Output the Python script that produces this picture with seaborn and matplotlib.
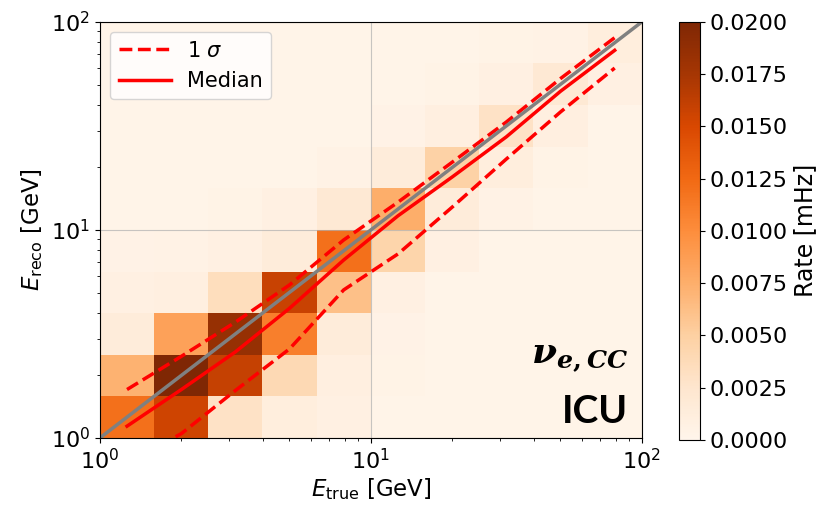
import numpy as np
import pandas as pd
import seaborn as sns
import matplotlib.pyplot as plt

# bin centres of E_true / E_reco (log-spaced, 10 bins per axis from 1 to 100 GeV)
e_centers = [1.26, 2.0, 3.16, 5.01, 7.94, 12.6, 20.0, 31.6, 50.1, 79.4]

# rate [mHz]; rows = E_reco bin (bottom first), columns = E_true bin
rate = [
    [0.0120, 0.0155, 0.0030, 0.0012, 0.0008, 0.0003, 0.0003, 0.0003, 0.0003, 0.0003],
    [0.0072, 0.0200, 0.0160, 0.0040, 0.0010, 0.0004, 0.0003, 0.0003, 0.0003, 0.0003],
    [0.0015, 0.0085, 0.0185, 0.0110, 0.0015, 0.0005, 0.0003, 0.0003, 0.0003, 0.0003],
    [0.0008, 0.0010, 0.0035, 0.0158, 0.0062, 0.0008, 0.0003, 0.0003, 0.0003, 0.0003],
    [0.0005, 0.0006, 0.0008, 0.0015, 0.0120, 0.0045, 0.0008, 0.0003, 0.0003, 0.0003],
    [0.0003, 0.0003, 0.0004, 0.0008, 0.0020, 0.0075, 0.0015, 0.0006, 0.0003, 0.0003],
    [0.0003, 0.0003, 0.0003, 0.0003, 0.0006, 0.0015, 0.0048, 0.0012, 0.0004, 0.0003],
    [0.0003, 0.0003, 0.0003, 0.0003, 0.0003, 0.0005, 0.0010, 0.0030, 0.0010, 0.0003],
    [0.0003, 0.0003, 0.0003, 0.0003, 0.0003, 0.0003, 0.0004, 0.0008, 0.0020, 0.0008],
    [0.0003, 0.0003, 0.0003, 0.0003, 0.0003, 0.0003, 0.0003, 0.0004, 0.0006, 0.0012],
]

# reconstructed energy statistics per E_true bin
median = [1.14, 1.71, 2.59, 4.20, 7.17, 11.7, 18.0, 28.0, 46.4, 73.0]
sigma_up = [1.71, 2.47, 3.60, 5.44, 8.95, 13.6, 21.2, 33.0, 53.4, 84.0]
sigma_low = [0.76, 1.05, 1.69, 2.68, 5.15, 7.67, 12.9, 21.9, 36.9, 60.0]

diag = [1, 100]
cbar_ticks = [0.0, 0.0025, 0.005, 0.0075, 0.01, 0.0125, 0.015, 0.0175, 0.02]

plt.rcParams['mathtext.it'] = 'DejaVu Serif:italic:bold'
plt.rcParams['mathtext.rm'] = 'DejaVu Serif:bold'
plt.rcParams['mathtext.bf'] = 'DejaVu Serif:bold'

xx, yy = np.meshgrid(e_centers, e_centers)
df = pd.DataFrame({'E_true': xx.ravel(), 'E_reco': yy.ravel(),
                   'rate': np.array(rate).ravel()})

fig = plt.figure(figsize=(8.25, 5.09), dpi=100)
ax = fig.add_axes([0.121, 0.1395, 0.657, 0.8175])
cax = fig.add_axes([0.823, 0.1355, 0.0255, 0.822])

sns.histplot(data=df, x='E_true', y='E_reco', weights='rate', bins=10,
             binrange=((0, 2), (0, 2)), log_scale=True, cmap='Oranges',
             vmin=0, vmax=0.02, cbar=True, cbar_ax=cax,
             cbar_kws={'ticks': cbar_ticks, 'format': '%.4f'}, ax=ax)

ax.plot(e_centers, sigma_up, color='red', ls='--', lw=2.5, label='1 $\\sigma$')
ax.plot(e_centers, median, color='red', ls='-', lw=2.5, label='Median')
ax.plot(e_centers, sigma_low, color='red', ls='--', lw=2.5)
ax.plot(diag, diag, color='gray', lw=2.5)

ax.set_xlim(1, 100)
ax.set_ylim(1, 100)
ax.grid(True, which='major', color='#b0b0b0', lw=0.8, alpha=0.7)
ax.set_xlabel('$E_{\\rm true}$ [GeV]', fontsize=16.5, labelpad=2)
ax.set_ylabel('$E_{\\rm reco}$ [GeV]', fontsize=16.5)
ax.tick_params(labelsize=16)
ax.legend(loc='upper left', fontsize=15, handlelength=2.5)

ax.text(0.975, 0.18, '$\\nu_{e,CC}$', transform=ax.transAxes, ha='right',
        va='baseline', fontsize=26, math_fontfamily='custom')
ax.text(0.975, 0.036, 'ICU', transform=ax.transAxes, ha='right',
        va='baseline', fontsize=28, family='Lato', weight='bold')

cax.tick_params(labelsize=16)
cax.set_ylabel('Rate [mHz]', fontsize=17)

fig.savefig('out.png', dpi=100)
